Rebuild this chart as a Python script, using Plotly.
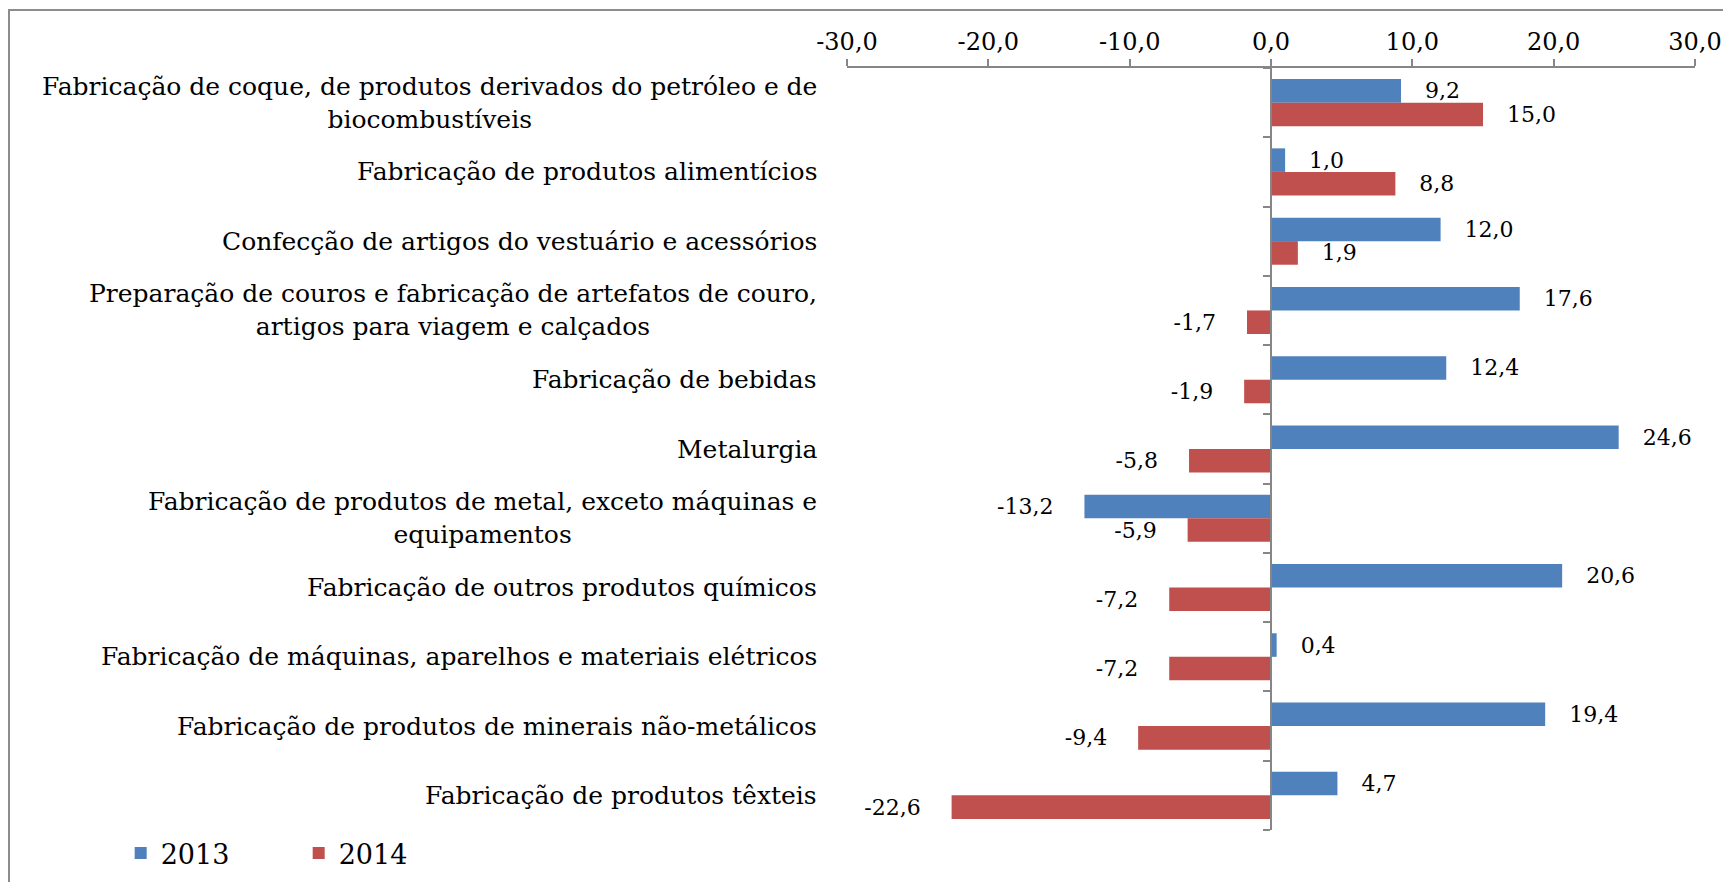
import plotly.graph_objects as go

# Categories, top to bottom as in the chart
categories = [
    "Fabricação de coque, de produtos derivados do petróleo e de<br>biocombustíveis",
    "Fabricação de produtos alimentícios",
    "Confecção de artigos do vestuário e acessórios",
    "Preparação de couros e fabricação de artefatos de couro,<br>artigos para viagem e calçados",
    "Fabricação de bebidas",
    "Metalurgia",
    "Fabricação de produtos de metal, exceto máquinas e<br>equipamentos",
    "Fabricação de outros produtos químicos",
    "Fabricação de máquinas, aparelhos e materiais elétricos",
    "Fabricação de produtos de minerais não-metálicos",
    "Fabricação de produtos têxteis",
]
values_2013 = [9.2, 1.0, 12.0, 17.6, 12.4, 24.6, -13.2, 20.6, 0.4, 19.4, 4.7]
values_2014 = [15.0, 8.8, 1.9, -1.7, -1.9, -5.8, -5.9, -7.2, -7.2, -9.4, -22.6]

x_ticks = [-30, -20, -10, 0, 10, 20, 30]
x_ticktext = ["-30,0", "-20,0", "-10,0", "0,0", "10,0", "20,0", "30,0"]

FONT = "DejaVu Serif"
AXIS_GREY = "#868686"


def bar_label(v):
    s = f"{v:.1f}".replace(".", ",")
    # push the label away from the bar end, like Excel does
    if v >= 0:
        return "\u00a0" * 3 + s
    return s + "\u00a0" * 4


fig = go.Figure()
fig.add_trace(go.Bar(
    y=categories, x=values_2013, orientation="h", name="2013",
    marker=dict(color="#4F81BD", line=dict(width=0)),
    text=[bar_label(v) for v in values_2013],
    textposition="outside", constraintext="none", cliponaxis=False,
    textfont=dict(family=FONT, size=22, color="#000000"),
))
fig.add_trace(go.Bar(
    y=categories, x=values_2014, orientation="h", name="2014",
    marker=dict(color="#C0504D", line=dict(width=0)),
    text=[bar_label(v) for v in values_2014],
    textposition="outside", constraintext="none", cliponaxis=False,
    textfont=dict(family=FONT, size=22, color="#000000"),
))
# helper trace so the vertical axis at zero (with category ticks) gets drawn
fig.add_trace(go.Scatter(x=[None], y=[None], yaxis="y2", showlegend=False,
                         hoverinfo="skip"))

n = len(categories)

# category labels, right-aligned block with centered lines (Excel style)
annotations = [
    dict(text=c, xref="paper", yref="y", x=0, y=c, xanchor="right",
         xshift=-28, align="center", showarrow=False,
         font=dict(family=FONT, size=25, color="#000000"))
    for c in categories
]

# the page body adds 8px around the figure, so size/margins compensate
fig.update_layout(
    width=1723, height=874,
    margin=dict(l=839, r=36, t=60, b=52, autoexpand=False),
    paper_bgcolor="white", plot_bgcolor="white",
    barmode="group", bargap=0.32, bargroupgap=0,
    font=dict(family=FONT, size=22, color="#000000"),
    xaxis=dict(
        side="top", range=[-30, 30], tickvals=x_ticks, ticktext=x_ticktext,
        showline=True, linecolor=AXIS_GREY, linewidth=1.5,
        ticks="outside", ticklen=7, tickcolor=AXIS_GREY, tickwidth=1.5,
        showgrid=False, zeroline=True, zerolinecolor=AXIS_GREY,
        zerolinewidth=1.5, tickfont=dict(family=FONT, size=24),
    ),
    yaxis=dict(
        type="category", range=[n - 0.5, -0.5], showticklabels=False,
        showline=False, showgrid=False, ticks="", zeroline=False,
    ),
    yaxis2=dict(
        overlaying="y", anchor="free", position=0.5, side="left",
        range=[n - 0.5, -0.5], tickvals=[i - 0.5 for i in range(n + 1)],
        ticks="outside", ticklen=7, tickcolor=AXIS_GREY, tickwidth=1.5,
        showline=True, linecolor=AXIS_GREY, linewidth=1.5,
        showticklabels=False, showgrid=False, zeroline=False,
    ),
    legend=dict(
        orientation="h", x=-0.8565, xanchor="left",
        yref="container", y=0.0326, yanchor="middle",
        font=dict(family=FONT, size=27), entrywidth=133,
        bgcolor="rgba(0,0,0,0)",
    ),
    annotations=annotations,
    shapes=[dict(type="rect", xref="paper", yref="paper",
                 x0=-0.9882, x1=1.2, y0=-0.3, y1=1.0761,
                 line=dict(color="#8C8C8C", width=2), layer="below")],
)

fig.write_html("out.html")
